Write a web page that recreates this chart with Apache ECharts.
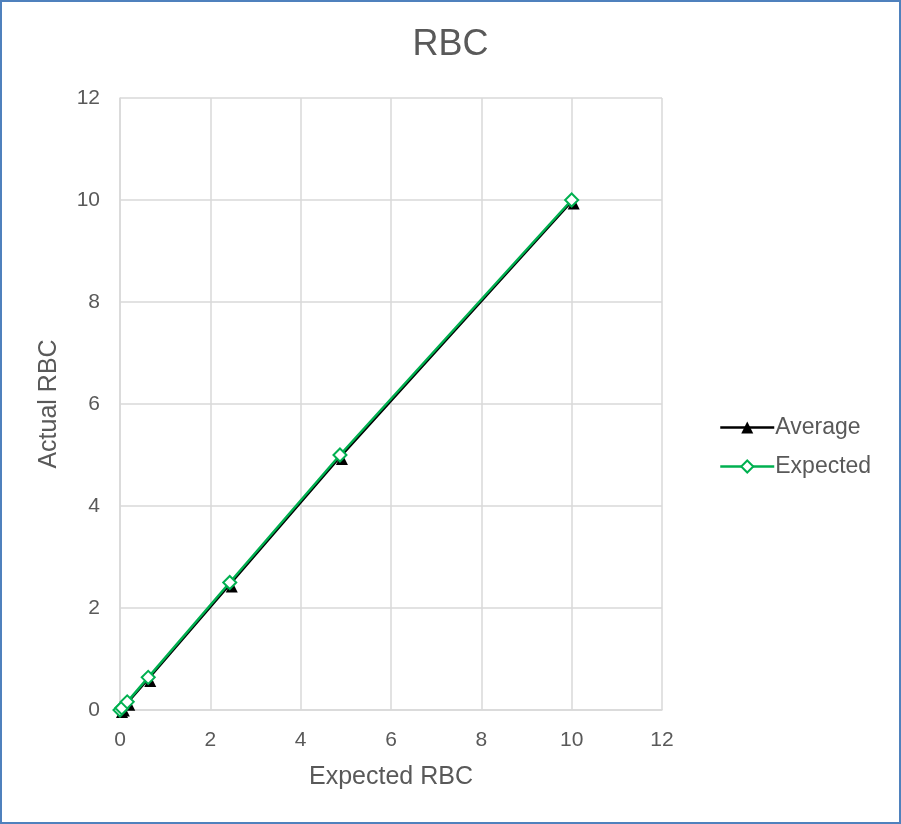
<!DOCTYPE html>
<html>
<head>
<meta charset="utf-8">
<script src="https://cdn.jsdelivr.net/npm/echarts@6/dist/echarts.min.js"></script>
<style>
  html, body { margin: 0; padding: 0; background: #fff; }
  #chart { width: 901px; height: 824px; }
</style>
</head>
<body>
<div id="chart"></div>
<script>
// Dilution points: expected RBC on x, measured RBC on y
const expectedX = [0, 0.04, 0.16, 0.625, 2.43, 4.87, 10];
const expectedY = [0, 0.04, 0.16, 0.64, 2.5, 5.0, 10];
const averageY  = [0, 0.03, 0.14, 0.61, 2.46, 4.96, 9.97];
const axisTicks = [0, 2, 4, 6, 8, 10, 12];

const pairs = (xs, ys) => xs.map((x, i) => [x, ys[i]]);

const chart = echarts.init(document.getElementById('chart'), null, { renderer: 'canvas' });
const textColor = '#595959';
const gridColor = '#d9d9d9';
const font = 'Liberation Sans, Arial';

chart.setOption({
  animation: false,
  backgroundColor: '#ffffff',
  title: {
    text: 'RBC',
    left: 'center',
    top: 22,
    textStyle: { fontFamily: font, fontSize: 36, fontWeight: 'normal', color: textColor }
  },
  grid: { left: 120, right: 239, top: 98, bottom: 114 },
  legend: {
    orient: 'vertical',
    left: 714,
    top: 411,
    itemGap: 16,
    itemWidth: 54,
    itemHeight: 15,
    textStyle: { fontFamily: font, fontSize: 23, color: textColor, padding: [0, 0, 0, -4] },
    data: [
      { name: 'Average', lineStyle: { width: 2.5 } },
      { name: 'Expected', lineStyle: { width: 2.5 } }
    ]
  },
  xAxis: {
    type: 'value',
    min: axisTicks[0],
    max: axisTicks[axisTicks.length - 1],
    interval: 2,
    name: 'Expected RBC',
    nameLocation: 'middle',
    nameGap: 55,
    nameTextStyle: { fontFamily: font, fontSize: 25, color: textColor },
    axisLine: { show: true, lineStyle: { color: gridColor, width: 1.5 } },
    axisTick: { show: false },
    axisLabel: { fontFamily: font, fontSize: 21, color: textColor, margin: 20 },
    splitLine: { show: true, lineStyle: { color: gridColor, width: 1.5 } }
  },
  yAxis: {
    type: 'value',
    min: axisTicks[0],
    max: axisTicks[axisTicks.length - 1],
    interval: 2,
    name: 'Actual RBC',
    nameLocation: 'middle',
    nameGap: 58,
    nameTextStyle: { fontFamily: font, fontSize: 25, color: textColor },
    axisLine: { show: true, lineStyle: { color: gridColor, width: 1.5 } },
    axisTick: { show: false },
    axisLabel: { fontFamily: font, fontSize: 21, color: textColor, margin: 20 },
    splitLine: { show: true, lineStyle: { color: gridColor, width: 1.5 } }
  },
  series: [
    {
      name: 'Average',
      type: 'line',
      data: pairs(expectedX, averageY),
      symbol: 'triangle',
      symbolSize: 12,
      symbolOffset: [2, 2],
      itemStyle: { color: '#000000' },
      lineStyle: { color: '#000000', width: 2.5 },
      z: 2
    },
    {
      name: 'Expected',
      type: 'line',
      data: pairs(expectedX, expectedY),
      symbol: 'diamond',
      symbolSize: 13,
      showAllSymbol: true,
      itemStyle: { color: '#ffffff', borderColor: '#00b050', borderWidth: 2 },
      lineStyle: { color: '#00b050', width: 2.5 },
      z: 3
    }
  ],
  graphic: [
    {
      type: 'rect',
      silent: true,
      shape: { x: 1, y: 1, width: 899, height: 822 },
      style: { fill: null, stroke: '#4f81bd', lineWidth: 2 },
      z: 100
    }
  ]
});
</script>
</body>
</html>
